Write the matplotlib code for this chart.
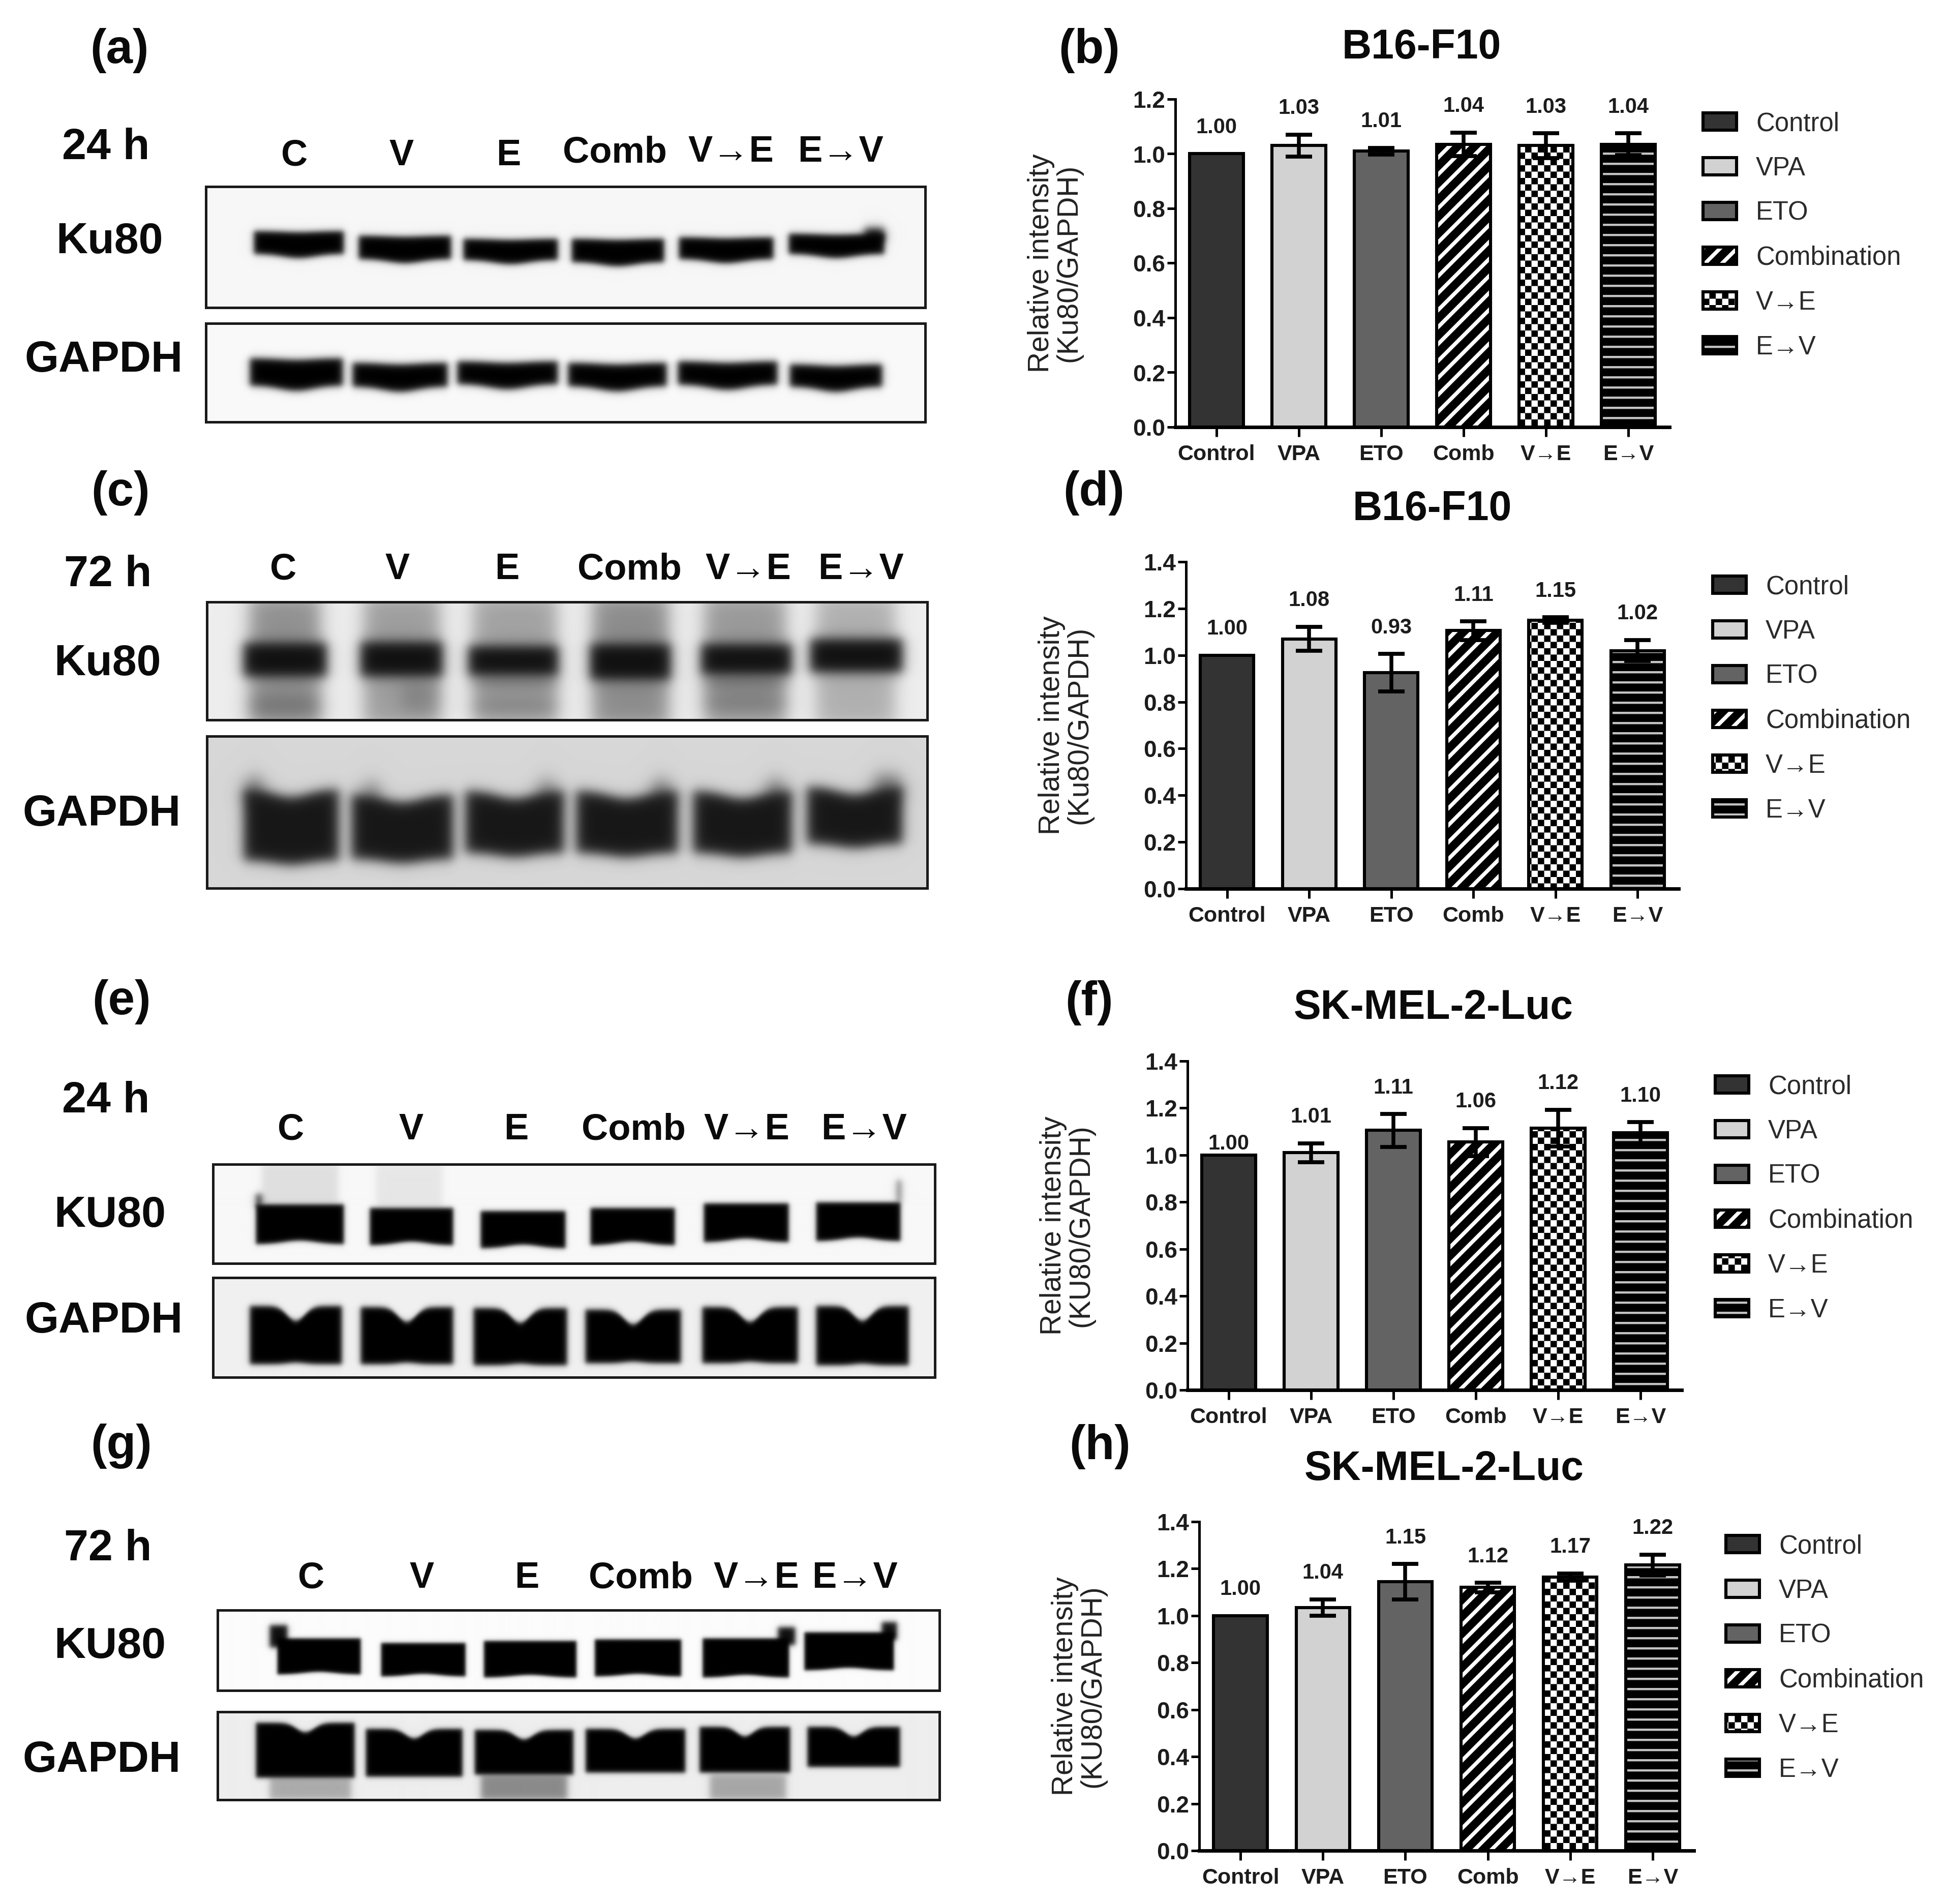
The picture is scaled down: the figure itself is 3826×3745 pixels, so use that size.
import numpy as np
import matplotlib
matplotlib.use("Agg")
import matplotlib.pyplot as plt
from matplotlib import hatch as mhatch
from matplotlib.path import Path

W, H = 3826, 3745
DPI = 100
plt.rcParams['font.family'] = ['Liberation Sans', 'DejaVu Sans']
plt.rcParams['hatch.linewidth'] = 0.1

# ---------- data ----------
categories = ["Control", "VPA", "ETO", "Comb", "V→E", "E→V"]
legend_labels = ["Control", "VPA", "ETO", "Combination", "V→E", "E→V"]

b_values = [1.00, 1.03, 1.01, 1.035, 1.03, 1.035]
b_errors = [0, 0.04, 0.012, 0.043, 0.045, 0.04]
b_labels = ["1.00", "1.03", "1.01", "1.04", "1.03", "1.04"]

d_values = [1.00, 1.07, 0.925, 1.105, 1.15, 1.02]
d_errors = [0, 0.052, 0.08, 0.04, 0.012, 0.045]
d_labels = ["1.00", "1.08", "0.93", "1.11", "1.15", "1.02"]

f_values = [1.00, 1.01, 1.105, 1.055, 1.115, 1.095]
f_errors = [0, 0.04, 0.07, 0.06, 0.078, 0.045]
f_labels = ["1.00", "1.01", "1.11", "1.06", "1.12", "1.10"]

h_values = [1.00, 1.035, 1.145, 1.12, 1.165, 1.215]
h_errors = [0, 0.035, 0.075, 0.02, 0.015, 0.045]
h_labels = ["1.00", "1.04", "1.15", "1.12", "1.17", "1.22"]

bar_fills = ['#333333', '#d2d2d2', '#636363', '#ffffff', '#ffffff', '#c4c4c4']
bar_hatches = [None, None, None, '/', 'x', '-']


# ---------- custom fills ----------
class _Stripes(mhatch.HatchPatternBase):
    filled = True
    def __init__(self, pattern, density):
        self.num_vertices = 7 * 5 if '/' in pattern else 0
    def set_vertices_and_codes(self, vertices, codes):
        w = 0.225
        i = 0
        for k in range(-3, 4):
            c = k / 3
            vertices[i:i + 5] = [(0, c), (1, 1 + c), (1, 1 + c + w), (0, c + w), (0, c)]
            codes[i:i + 5] = [Path.MOVETO, Path.LINETO, Path.LINETO, Path.LINETO, Path.CLOSEPOLY]
            i += 5


class _Checks(mhatch.HatchPatternBase):
    filled = True
    def __init__(self, pattern, density):
        self.num_vertices = 32 * 5 if 'x' in pattern else 0
    def set_vertices_and_codes(self, vertices, codes):
        s = 1 / 8
        i = 0
        for r in range(8):
            for c in range(8):
                if (r + c) % 2 == 0:
                    x, y = c * s, r * s
                    vertices[i:i + 5] = [(x, y), (x + s, y), (x + s, y + s), (x, y + s), (x, y)]
                    codes[i:i + 5] = [Path.MOVETO, Path.LINETO, Path.LINETO, Path.LINETO, Path.CLOSEPOLY]
                    i += 5


class _Rules(mhatch.HatchPatternBase):
    filled = True
    def __init__(self, pattern, density):
        self.num_vertices = 5 * 5 if '-' in pattern else 0
    def set_vertices_and_codes(self, vertices, codes):
        i = 0
        for k in range(5):
            y = k / 5
            t = 0.155
            vertices[i:i + 5] = [(0, y), (1, y), (1, y + t), (0, y + t), (0, y)]
            codes[i:i + 5] = [Path.MOVETO, Path.LINETO, Path.LINETO, Path.LINETO, Path.CLOSEPOLY]
            i += 5


mhatch._hatch_types[:] = [_Stripes, _Checks, _Rules]

fig = plt.figure(figsize=(W / DPI, H / DPI), dpi=DPI, facecolor='white')


def fx(x):
    return x / W


def fy(y):
    return 1 - y / H


def label(x, y, s, size, weight='bold', color='#0a0a0a'):
    fig.text(fx(x), fy(y + 6), s, fontsize=size, fontweight=weight, color=color,
             ha='center', va='center')


def bar_panel(left, right, y0, ytop, ymax, values, errors, labels, ylabel,
              legend_x, legend_y, special=None):
    ax = fig.add_axes([fx(left), fy(y0), (right - left) / W, (y0 - ytop) / H])
    x = np.arange(len(values))
    bars = ax.bar(x, values, width=0.65, color=bar_fills, edgecolor='black', linewidth=4.4, zorder=2)
    for patch, h in zip(bars.patches, bar_hatches):
        if h:
            patch.set_hatch(h)
    idx = [i for i, e in enumerate(errors) if e > 0]
    ax.errorbar(x[idx], np.array(values)[idx], yerr=np.array(errors)[idx], fmt='none',
                ecolor='black', elinewidth=5.4, capsize=19, capthick=5.6, zorder=3)
    for i, (v, e, s) in enumerate(zip(values, errors, labels)):
        off = 37 if not (special and i in special) else special[i]
        ax.annotate(s, (x[i], v + e), xytext=(0, off), textcoords='offset points',
                    ha='center', va='center', fontsize=30, fontweight='bold', color='#1c1c1c')
    ax.set_xlim(-0.5, 5.5)
    ax.set_ylim(0, ymax)
    ax.set_yticks(np.arange(0, ymax + 0.01, 0.2))
    ax.set_yticklabels([f"{t:.1f}" for t in np.arange(0, ymax + 0.01, 0.2)])
    ax.set_xticks(x)
    ax.set_xticklabels(categories)
    ax.tick_params(axis='y', length=11.5, width=3.6, pad=3, labelsize=33, labelcolor='#1c1c1c')
    ax.tick_params(axis='x', length=14, width=3.6, pad=10.5, labelsize=31, labelcolor='#1c1c1c')
    for t in ax.get_xticklabels() + ax.get_yticklabels():
        t.set_fontweight('bold')
    for s in ('top', 'right'):
        ax.spines[s].set_visible(False)
    ax.spines['left'].set_linewidth(3.6)
    ax.spines['bottom'].set_linewidth(5)
    ax.set_ylabel(ylabel, fontsize=41, color='#222222', va='center', ha='center',
                  multialignment='center', linespacing=1.02)
    ax.yaxis.set_label_coords(-237 / (right - left), 0.5)
    ax.patch.set_alpha(0)
    leg = ax.legend(bars.patches, legend_labels, loc='upper left',
                    bbox_to_anchor=(fx(legend_x), fy(legend_y)), bbox_transform=fig.transFigure,
                    frameon=False, fontsize=36.6, borderpad=0, borderaxespad=0,
                    handlelength=1.29, handleheight=0.65, handletextpad=0.76,
                    labelspacing=0.766)
    for t in leg.get_texts():
        t.set_color('#2a2a2a')
    return ax


def blot(x0, x1, y0, y1, lanes, bg, fg, soft, notch, bulge, extras=(), nw=0.26):
    """lanes: (left, right, top, bottom); extras: (left, right, top, bottom, strength)."""
    ax = fig.add_axes([fx(x0), fy(y1), (x1 - x0) / W, (y1 - y0) / H])
    X, Y = np.meshgrid(np.arange(x0, x1, dtype=float), np.arange(y0, y1, dtype=float))
    S = lambda t: 0.5 * (1 + np.tanh(t))
    keep = np.ones_like(X)
    es = soft * 1.5
    for (l, r, t, b, a) in extras:
        d = S((X - l) / es) * S((r - X) / es) * S((Y - t) / es) * S((b - Y) / es)
        keep *= 1 - a * d
    for (l, r, t, b) in lanes:
        u = (X - l) / (r - l)
        g = np.exp(-((u - 0.5) / nw) ** 2)
        top = t + notch * g
        bot = b + bulge * (g - 1)
        d = S((X - l) / soft) * S((r - X) / soft) * S((Y - top) / soft) * S((bot - Y) / soft)
        keep *= 1 - d
    img = fg + (bg - fg) * keep
    ax.imshow(img, cmap='gray', vmin=0, vmax=1, aspect='auto', interpolation='bilinear')
    ax.set_xticks([])
    ax.set_yticks([])
    for s in ax.spines.values():
        s.set_linewidth(3.6)
        s.set_color('#1a1a1a')


# ---------- (a) ----------
blot(405, 1820, 367, 605,
     [(499, 676, 454, 507), (705, 887, 463, 517), (911, 1097, 469, 519),
      (1124, 1306, 469, 523), (1335, 1521, 466, 517), (1551, 1739, 459, 507)],
     0.965, 0.0, 7, 2, 8,
     extras=[(1700, 1739, 448, 475, 0.95)])
blot(405, 1820, 636, 830,
     [(491, 674, 704, 768), (693, 880, 713, 770), (899, 1097, 710, 765),
      (1117, 1311, 713, 769), (1333, 1529, 710, 766), (1553, 1735, 716, 770)],
     0.975, 0.0, 8, 3, 10)
# ---------- (c) ----------
blot(407, 1824, 1184, 1416,
     [(479, 642, 1264, 1330), (709, 870, 1262, 1330), (921, 1097, 1270, 1328),
      (1161, 1318, 1266, 1336), (1379, 1557, 1266, 1326), (1593, 1775, 1256, 1322)],
     0.93, 0.06, 14, 0, 0,
     extras=[(490, 630, 1170, 1430, 0.42), (715, 865, 1170, 1430, 0.36), (930, 1095, 1170, 1430, 0.34),
             (1165, 1315, 1170, 1430, 0.44), (1385, 1545, 1170, 1430, 0.38), (1605, 1760, 1170, 1430, 0.28),
             (490, 630, 1370, 1405, 0.25), (930, 1095, 1330, 1350, 0.3), (930, 1095, 1375, 1400, 0.25),
             (1385, 1545, 1330, 1352, 0.3), (1385, 1545, 1370, 1395, 0.25), (790, 865, 1340, 1400, 0.2)])
blot(407, 1824, 1448, 1747,
     [(479, 666, 1552, 1700), (691, 891, 1562, 1697), (915, 1109, 1555, 1685),
      (1133, 1333, 1555, 1685), (1363, 1557, 1555, 1685), (1587, 1775, 1547, 1667)],
     0.84, 0.09, 14, 14, 8,
     extras=[(485, 515, 1530, 1580, 0.6), (715, 745, 1540, 1590, 0.5), (1060, 1090, 1535, 1580, 0.5),
             (1285, 1315, 1535, 1580, 0.6), (1510, 1540, 1535, 1580, 0.6), (1720, 1770, 1525, 1570, 0.6)])
# ---------- (e) ----------
blot(419, 1839, 2290, 2485,
     [(503, 676, 2369, 2440), (727, 891, 2376, 2442), (945, 1112, 2382, 2448),
      (1161, 1327, 2376, 2442), (1384, 1551, 2367, 2436), (1605, 1771, 2365, 2434)],
     0.97, 0.0, 5, 0, -7,
     extras=[(515, 665, 2290, 2372, 0.1), (740, 870, 2290, 2378, 0.07),
             (503, 515, 2349, 2374, 0.8), (1763, 1773, 2322, 2365, 0.45)])
blot(419, 1839, 2513, 2709,
     [(491, 672, 2569, 2680), (709, 891, 2571, 2680), (931, 1115, 2573, 2682),
      (1151, 1339, 2576, 2678), (1381, 1569, 2571, 2678), (1605, 1787, 2569, 2682)],
     0.94, 0.0, 6, 28, -3, nw=0.14)
# ---------- (g) ----------
blot(428, 1848, 3167, 3325,
     [(545, 709, 3222, 3288), (749, 915, 3231, 3292), (951, 1133, 3227, 3294),
      (1169, 1339, 3224, 3292), (1381, 1551, 3222, 3294), (1581, 1757, 3210, 3280)],
     0.985, 0.0, 4, 0, -5,
     extras=[(530, 565, 3196, 3240, 0.95), (1529, 1563, 3200, 3235, 0.95), (1733, 1763, 3190, 3225, 0.95)])
blot(428, 1848, 3367, 3540,
     [(503, 697, 3388, 3496), (719, 909, 3400, 3494), (933, 1127, 3402, 3490),
      (1151, 1347, 3400, 3486), (1375, 1553, 3396, 3486), (1587, 1769, 3396, 3475)],
     0.93, 0.0, 5, 18, 0, nw=0.13,
     extras=[(530, 690, 3495, 3540, 0.28), (945, 1115, 3490, 3540, 0.42), (1395, 1545, 3490, 3540, 0.3)])

# ---------- bars ----------
bar_panel(2312, 3284, 840, 195, 1.2, b_values, b_errors, b_labels,
          "Relative intensity\n(Ku80/GAPDH)", 3350, 219)
bar_panel(2333, 3302, 1748, 1105, 1.4, d_values, d_errors, d_labels,
          "Relative intensity\n(Ku80/GAPDH)", 3369, 1130)
bar_panel(2336, 3308, 2734, 2087, 1.4, f_values, f_errors, f_labels,
          "Relative intensity\n(KU80/GAPDH)", 3374, 2113, special={0: 16})
bar_panel(2359, 3332, 3640, 2993, 1.4, h_values, h_errors, h_labels,
          "Relative intensity\n(KU80/GAPDH)", 3395, 3017)

# ---------- text ----------
for x, y, s in [(235, 93, "(a)"), (2143, 93, "(b)"), (237, 964, "(c)"), (2152, 964, "(d)"),
                (239, 1964, "(e)"), (2143, 1966, "(f)"), (239, 2838, "(g)"), (2164, 2839, "(h)")]:
    label(x, y, s, 68)
for x, y, s in [(2796, 88, "B16-F10"), (2817, 996, "B16-F10"),
                (2820, 1977, "SK-MEL-2-Luc"), (2841, 2884, "SK-MEL-2-Luc")]:
    label(x, y, s, 58)
for x, y, s in [(208, 285, "24 h"), (212, 1125, "72 h"), (208, 2160, "24 h"), (212, 3041, "72 h"),
                (216, 470, "Ku80"), (204, 703, "GAPDH"),
                (212, 1300, "Ku80"), (200, 1596, "GAPDH"),
                (216, 2385, "KU80"), (204, 2593, "GAPDH"),
                (216, 3233, "KU80"), (200, 3457, "GAPDH")]:
    label(x, y, s, 62)
lane_names = ["C", "V", "E", "Comb", "V→E", "E→V"]
for xs, ys in [([579, 790, 1000, 1209, 1438, 1654], [300, 300, 300, 295, 293, 293]),
               ([557, 782, 997, 1238, 1472, 1694], [1114] * 6),
               ([572, 809, 1015, 1246, 1469, 1699], [2216] * 6),
               ([612, 830, 1036, 1260, 1488, 1682], [3098] * 6)]:
    for x, y, s in zip(xs, ys, lane_names):
        label(x, y, s, 52)

fig.savefig("out.png", dpi=DPI, facecolor='white')
